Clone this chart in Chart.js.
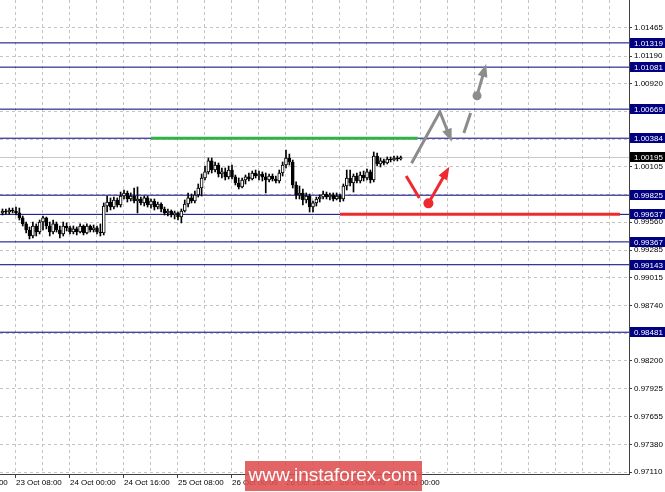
<!DOCTYPE html>
<html><head><meta charset="utf-8">
<script src="https://cdn.jsdelivr.net/npm/chart.js@4/dist/chart.umd.min.js"></script>
<style>html,body{margin:0;padding:0;background:#fff;}canvas{display:block;}</style>
</head><body>
<canvas id="c" width="665" height="492"></canvas>
<script>
// bar index 0 = 23 Oct 08:00 (H1 bars)
const FIRST_BAR = -4;
const OPEN = [0.99651,0.99670,0.99660,0.99680,0.99670,0.99651,0.99602,0.99543,0.99484,0.99425,
0.99523,0.99464,0.99562,0.99602,0.99523,0.99464,0.99543,0.99484,0.99445,0.99523,
0.99504,0.99464,0.99494,0.99464,0.99523,0.99455,0.99523,0.99484,0.99504,0.99464,
0.99455,0.99719,0.99758,0.99709,0.99778,0.99729,0.99817,0.99847,0.99788,0.99817,
0.99768,0.99788,0.99749,0.99798,0.99729,0.99768,0.99709,0.99739,0.99690,0.99651,
0.99670,0.99631,0.99651,0.99611,0.99670,0.99739,0.99798,0.99768,0.99827,0.99896,
0.99994,1.00053,1.00161,1.00072,1.00121,1.00033,1.00053,1.00004,1.00072,1.00004,
0.99945,0.99906,0.99974,1.00004,0.99984,1.00043,1.00013,1.00033,1.00004,0.99974,
1.00013,0.99984,0.99964,1.00043,1.00121,1.00190,1.00151,0.99925,0.99827,0.99847,
0.99778,0.99817,0.99709,0.99749,0.99788,0.99807,0.99837,0.99807,0.99827,0.99788,
0.99817,0.99788,0.99915,0.99994,0.99945,1.00013,0.99964,1.00023,0.99994,1.00053,
0.99974,1.00209,1.00131,1.00161,1.00141,1.00180,1.00170,1.00190,1.00180];
const HIGH = [0.99690,0.99690,0.99699,0.99699,0.99709,0.99699,0.99621,0.99562,0.99513,0.99562,
0.99543,0.99582,0.99621,0.99611,0.99562,0.99582,0.99562,0.99523,0.99562,0.99553,
0.99523,0.99523,0.99513,0.99543,0.99533,0.99543,0.99533,0.99533,0.99523,0.99543,
0.99749,0.99817,0.99798,0.99807,0.99798,0.99856,0.99876,0.99866,0.99847,0.99896,
0.99906,0.99807,0.99817,0.99817,0.99788,0.99788,0.99758,0.99749,0.99709,0.99690,
0.99680,0.99670,0.99660,0.99690,0.99778,0.99847,0.99837,0.99866,0.99935,1.00033,
1.00111,1.00190,1.00190,1.00151,1.00141,1.00092,1.00092,1.00111,1.00121,1.00023,
0.99994,0.99994,1.00023,1.00043,1.00062,1.00072,1.00062,1.00053,1.00043,1.00033,
1.00033,1.00013,1.00072,1.00151,1.00268,1.00229,1.00170,0.99955,0.99915,0.99886,
0.99847,0.99837,0.99768,0.99807,0.99827,0.99866,0.99856,0.99847,0.99847,0.99847,
0.99837,0.99935,1.00072,1.00072,1.00033,1.00043,1.00053,1.00062,1.00082,1.00072,
1.00249,1.00239,1.00190,1.00180,1.00200,1.00200,1.00209,1.00209,1.00209];
const LOW = [0.99631,0.99641,0.99641,0.99651,0.99631,0.99582,0.99523,0.99455,0.99396,0.99406,
0.99425,0.99445,0.99484,0.99494,0.99425,0.99445,0.99464,0.99406,0.99425,0.99474,
0.99445,0.99445,0.99435,0.99455,0.99435,0.99445,0.99464,0.99464,0.99445,0.99425,
0.99435,0.99660,0.99680,0.99690,0.99709,0.99709,0.99788,0.99758,0.99768,0.99749,
0.99651,0.99729,0.99719,0.99709,0.99699,0.99680,0.99690,0.99660,0.99631,0.99621,
0.99611,0.99592,0.99582,0.99553,0.99660,0.99709,0.99749,0.99749,0.99807,0.99817,
0.99974,1.00033,1.00043,1.00053,1.00004,0.99994,0.99974,0.99984,0.99984,0.99925,
0.99886,0.99896,0.99935,0.99964,0.99974,0.99994,0.99974,0.99964,0.99847,0.99955,
0.99964,0.99945,0.99945,1.00013,1.00092,1.00121,0.99896,0.99788,0.99788,0.99729,
0.99749,0.99660,0.99660,0.99719,0.99758,0.99788,0.99788,0.99778,0.99768,0.99778,
0.99758,0.99768,0.99876,0.99915,0.99856,0.99945,0.99945,0.99964,0.99974,0.99945,
0.99955,1.00111,1.00102,1.00121,1.00131,1.00151,1.00161,1.00161,1.00170];
const CLOSE = [0.99670,0.99660,0.99680,0.99670,0.99651,0.99602,0.99543,0.99484,0.99425,0.99523,
0.99464,0.99562,0.99602,0.99523,0.99464,0.99543,0.99484,0.99445,0.99523,0.99504,
0.99464,0.99494,0.99464,0.99523,0.99455,0.99523,0.99484,0.99504,0.99464,0.99455,
0.99719,0.99758,0.99709,0.99778,0.99729,0.99817,0.99847,0.99788,0.99817,0.99768,
0.99788,0.99749,0.99798,0.99729,0.99768,0.99709,0.99739,0.99690,0.99651,0.99670,
0.99631,0.99651,0.99611,0.99670,0.99739,0.99798,0.99768,0.99827,0.99896,0.99994,
1.00053,1.00161,1.00072,1.00121,1.00033,1.00053,1.00004,1.00072,1.00004,0.99945,
0.99906,0.99974,1.00004,0.99984,1.00043,1.00013,1.00033,1.00004,0.99974,1.00013,
0.99984,0.99964,1.00043,1.00121,1.00190,1.00151,0.99925,0.99827,0.99847,0.99778,
0.99817,0.99709,0.99749,0.99788,0.99807,0.99837,0.99807,0.99827,0.99788,0.99817,
0.99788,0.99915,0.99994,0.99945,1.00013,0.99964,1.00023,0.99994,1.00053,0.99974,
1.00209,1.00131,1.00161,1.00141,1.00180,1.00170,1.00190,1.00180,1.00195];

// labelled time ticks every 16 bars, starting at bar -16 (22 Oct 16:00)
const X_TICK_LABELS = ["22 Oct 16:00","23 Oct 08:00","24 Oct 00:00","24 Oct 16:00","25 Oct 08:00",
  "26 Oct 00:00","26 Oct 16:00","29 Oct 08:00","30 Oct 00:00"];
const Y_TICKS = [1.01465,1.01190,1.00920,1.00645,1.00375,1.00105,0.99830,0.99560,0.99285,
  0.99015,0.98740,0.98470,0.98200,0.97925,0.97655,0.97380,0.97110];
const LEVELS = [1.01319,1.01081,1.00669,1.00384,0.99825,0.99637,0.99367,0.99143,0.98481];
const CURRENT_PRICE = 1.00195;
const GREEN_LEVEL = 1.00384, GREEN_RANGE = [40, 119];
const RED_LEVEL = 0.99637, RED_RANGE = [96, 179];

// forecast drawing (bar index, price)
const GRAY_ZIG_X = [117.2, 125.6, 129.1], GRAY_ZIG_Y = [1.00138, 1.00644, 1.00350];
const GRAY_DASH_X = [132.7, 134.7], GRAY_DASH_Y = [1.00435, 1.00631];
const GRAY_UP_X = [136.6, 139.3], GRAY_UP_Y = [1.00801, 1.01112];
const RED_STROKE_X = [115.6, 119.5], RED_STROKE_Y = [1.00013, 0.99798];
const RED_UP_X = [122.2, 128.4], RED_UP_Y = [0.99745, 1.00104];

const X_MIN = -4.74, X_MAX = 181.63, Y_MIN = 0.970904, Y_MAX = 1.017396;
const FONT = {family: "'Liberation Sans', Arial, sans-serif", size: 8};
const NAVY = '#000080';

const bodies = OPEN.map((o, i) => ({x: FIRST_BAR + i, y: [Math.min(o, CLOSE[i]), Math.max(o, CLOSE[i])]}));
const wicks = OPEN.map((o, i) => ({x: FIRST_BAR + i, y: [LOW[i], HIGH[i]]}));
const hline = (v, a, b) => [{x: a, y: v}, {x: b, y: v}];

const datasets = [
  {type: 'bar', data: bodies, order: 0, grouped: false, barThickness: 3,
   backgroundColor: c => CLOSE[c.dataIndex] >= OPEN[c.dataIndex] ? '#ffffff' : '#000000',
   borderColor: '#000', borderWidth: 1, borderSkipped: false},
  {type: 'bar', data: wicks, order: 1, grouped: false, barThickness: 1,
   backgroundColor: '#000', borderWidth: 0},
  {type: 'line', data: hline(GREEN_LEVEL, GREEN_RANGE[0], GREEN_RANGE[1]), order: 2,
   borderColor: '#33b04a', borderWidth: 3, pointRadius: 0},
  {type: 'line', data: hline(RED_LEVEL, RED_RANGE[0], RED_RANGE[1]), order: 2,
   borderColor: '#ee2a2f', borderWidth: 3, pointRadius: 0},
  {type: 'line', data: hline(CURRENT_PRICE, X_MIN, X_MAX), order: 4,
   borderColor: '#c8c8c8', borderWidth: 1, pointRadius: 0},
];
LEVELS.forEach(v => datasets.push({type: 'line', data: hline(v, X_MIN, X_MAX), order: 3,
  borderColor: NAVY, borderWidth: 1, pointRadius: 0}));

function arrowHead(ctx, x1, y1, x2, y2, len, w) {
  const a = Math.atan2(y2 - y1, x2 - x1), c = Math.cos(a), s = Math.sin(a);
  ctx.beginPath();
  ctx.moveTo(x2, y2);
  ctx.lineTo(x2 - len * c + w / 2 * s, y2 - len * s - w / 2 * c);
  ctx.lineTo(x2 - len * c - w / 2 * s, y2 - len * s + w / 2 * c);
  ctx.closePath(); ctx.fill();
}
function path(ctx, xs, ys, sx, sy, head) {
  const px = xs.map(v => sx.getPixelForValue(v)), py = ys.map(v => sy.getPixelForValue(v));
  const n = px.length;
  let ex = px[n - 1], ey = py[n - 1];
  if (head) {
    const a = Math.atan2(ey - py[n - 2], ex - px[n - 2]);
    ex -= 9 * Math.cos(a); ey -= 9 * Math.sin(a);
  }
  ctx.beginPath(); ctx.moveTo(px[0], py[0]);
  for (let i = 1; i < n - 1; i++) ctx.lineTo(px[i], py[i]);
  ctx.lineTo(ex, ey); ctx.stroke();
  if (head) arrowHead(ctx, px[n - 2], py[n - 2], px[n - 1], py[n - 1], 13, 10);
  return {px, py};
}
function dot(ctx, x, y, r) { ctx.beginPath(); ctx.arc(x, y, r, 0, Math.PI * 2); ctx.fill(); }

const drawings = {
  id: 'drawings',
  afterDatasetsDraw(chart) {
    const {ctx, scales: {x, y}} = chart;
    ctx.save();
    ctx.lineWidth = 3; ctx.lineCap = 'butt'; ctx.lineJoin = 'miter';
    ctx.strokeStyle = ctx.fillStyle = '#8c8c8c';
    path(ctx, GRAY_ZIG_X, GRAY_ZIG_Y, x, y, true);
    path(ctx, GRAY_DASH_X, GRAY_DASH_Y, x, y, false);
    const g = path(ctx, GRAY_UP_X, GRAY_UP_Y, x, y, true);
    dot(ctx, g.px[0], g.py[0], 4.5);
    ctx.strokeStyle = ctx.fillStyle = '#ee2a2f';
    path(ctx, RED_STROKE_X, RED_STROKE_Y, x, y, false);
    const r = path(ctx, RED_UP_X, RED_UP_Y, x, y, true);
    dot(ctx, r.px[0], r.py[0], 5);
    ctx.restore();
  },
  afterDraw(chart) {
    const {ctx, scales: {y}, chartArea} = chart;
    ctx.save();
    ctx.font = "8px 'Liberation Sans', Arial, sans-serif";
    ctx.textBaseline = 'middle'; ctx.textAlign = 'left';
    const box = (v, bg) => {
      const py = Math.round(y.getPixelForValue(v));
      ctx.fillStyle = bg; ctx.fillRect(chartArea.right + 1, py - 5, 36, 10);
      ctx.fillStyle = '#fff'; ctx.fillText(v.toFixed(5), chartArea.right + 5, py + 0.5);
    };
    LEVELS.forEach(v => box(v, NAVY));
    box(CURRENT_PRICE, '#000');
    // watermark
    ctx.fillStyle = 'rgba(222,78,78,0.88)';
    ctx.fillRect(245, 461, 177, 30);
    ctx.fillStyle = '#fff'; ctx.textAlign = 'center';
    ctx.font = "19px 'Liberation Sans', Arial, sans-serif";
    ctx.fillText('www.instaforex.com', 333, 476);
    ctx.restore();
  }
};

new Chart(document.getElementById('c'), {
  type: 'bar',
  data: {datasets},
  plugins: [drawings],
  options: {
    responsive: false, animation: false, devicePixelRatio: 1,
    layout: {padding: 0},
    plugins: {legend: {display: false}, tooltip: {enabled: false}},
    scales: {
      x: {
        type: 'linear', min: X_MIN, max: X_MAX, offset: false, position: 'bottom',
        afterBuildTicks: s => { const t = [{value: -16}]; for (let v = 0; v <= 176; v += 8) t.push({value: v}); s.ticks = t; },
        afterFit: s => { s.height = 18; s.paddingLeft = 0; s.paddingRight = 0; },
        ticks: {autoSkip: false, maxRotation: 0, align: 'start', padding: 0, color: '#000', font: FONT,
          callback: v => (v % 16 === 0 && X_TICK_LABELS[v / 16 + 1]) || ''},
        grid: {color: '#c4c4c4', offset: false, tickLength: 4,
          tickColor: c => (c.tick && c.tick.value % 16 === 0 && c.tick.value <= 112) ? '#404040' : 'rgba(0,0,0,0)'},
        border: {color: '#404040', width: 1, dash: [3, 3]}
      },
      y: {
        type: 'linear', position: 'right', min: Y_MIN, max: Y_MAX,
        afterBuildTicks: s => { s.ticks = Y_TICKS.map(v => ({value: v})); },
        afterFit: s => { s.width = 36; s.paddingTop = 0; s.paddingBottom = 0; },
        ticks: {padding: 2, color: '#000', font: FONT, callback: v => v.toFixed(5)},
        grid: {color: '#c4c4c4', tickLength: 3, tickColor: '#404040'},
        border: {color: '#404040', width: 1, dash: [3, 3]}
      }
    }
  }
});
</script>
</body></html>
